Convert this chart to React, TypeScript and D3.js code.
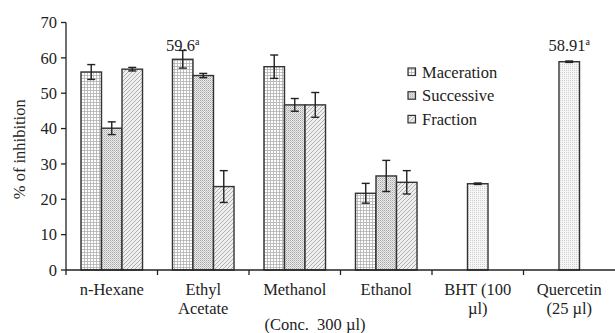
import React from "react";
import * as d3 from "d3";

const categories = ["n-Hexane", "Ethyl|Acetate", "Methanol", "Ethanol", "BHT (100|µl)", "Quercetin|(25 µl)"];
const seriesNames = ["Maceration", "Successive", "Fraction"];
const maceration = [56.0, 59.6, 57.5, 21.7, null, null];
const macerationErr = [2.1, 2.5, 3.3, 2.8, null, null];
const successive = [40.1, 55.0, 46.7, 26.6, null, null];
const successiveErr = [1.8, 0.6, 1.8, 4.4, null, null];
const fraction = [56.8, 23.6, 46.7, 24.8, null, null];
const fractionErr = [0.5, 4.5, 3.5, 3.3, null, null];
const standards = [null, null, null, null, 24.4, 58.91];
const standardsErr = [null, null, null, null, 0.2, 0.2];
const yTicks = [0, 10, 20, 30, 40, 50, 60, 70];
const annotations = [
  { cat: 1, series: 0, text: "59.6" },
  { cat: 5, series: 1, text: "58.91" },
];

const W = 615, H = 333;
const x0 = 66, x1 = 615, yTop = 22.5, yBottom = 270;

export default function App() {
  const y = d3.scaleLinear().domain([0, 70]).range([yBottom, yTop]);
  const x = d3.scaleBand<number>().domain(categories.map((_, i) => i)).range([x0, x1]).padding(0);
  const xs = d3.scaleBand<number>().domain([0, 1, 2]).range([0, x.bandwidth()]).paddingInner(0).paddingOuter(0.73);
  const font = "'Liberation Serif', 'Times New Roman', serif";
  const fs = 16.5;
  const fills = ["url(#pMac)", "url(#pSuc)", "url(#pFrac)", "url(#pStd)"];

  const bars: { cat: number; slot: number; v: number; e: number; fill: string }[] = [];
  const series = [maceration, successive, fraction];
  const errs = [macerationErr, successiveErr, fractionErr];
  categories.forEach((_, ci) => {
    series.forEach((s, si) => {
      const v = s[ci];
      if (v != null) bars.push({ cat: ci, slot: si, v, e: errs[si][ci] as number, fill: fills[si] });
    });
    const sv = standards[ci];
    if (sv != null) bars.push({ cat: ci, slot: 1, v: sv, e: standardsErr[ci] as number, fill: fills[3] });
  });

  return (
    <svg width={W} height={H} style={{ position: "absolute", left: 0, top: 0, background: "#fff" }}>
      <defs>
        <pattern id="pMac" width="3" height="3" patternUnits="userSpaceOnUse">
          <rect width="3" height="3" fill="#fff" />
          <path d="M0,0.5H3M0.5,0V3" stroke="#b0b0b0" strokeWidth="0.8" />
        </pattern>
        <pattern id="pSuc" width="2" height="2" patternUnits="userSpaceOnUse">
          <rect width="2" height="2" fill="#ececec" />
          <rect width="1" height="1" fill="#a6a6a6" />
          <rect x="1" y="1" width="1" height="1" fill="#c4c4c4" />
        </pattern>
        <pattern id="pFrac" width="4" height="4" patternUnits="userSpaceOnUse">
          <rect width="4" height="4" fill="#efefef" />
          <path d="M-1,1L1,-1M0,4L4,0M3,5L5,3" stroke="#a8a8a8" strokeWidth="0.9" />
        </pattern>
        <pattern id="pStd" width="2" height="2" patternUnits="userSpaceOnUse">
          <rect width="2" height="2" fill="#f6f6f6" />
          <rect width="1" height="1" fill="#d0d0d0" />
        </pattern>
      </defs>

      {/* bars */}
      {bars.map((b, i) => {
        const bx = (x(b.cat) as number) + (xs(b.slot) as number);
        const bw = xs.bandwidth();
        return (
          <g key={i}>
            <rect x={bx} y={y(b.v)} width={bw} height={y(0) - y(b.v)} fill={b.fill} stroke="#333" strokeWidth={1.4} />
            <g stroke="#222" strokeWidth={1.4}>
              <line x1={bx + bw / 2} x2={bx + bw / 2} y1={y(b.v + b.e)} y2={y(b.v - b.e)} />
              <line x1={bx + bw / 2 - 4} x2={bx + bw / 2 + 4} y1={y(b.v + b.e)} y2={y(b.v + b.e)} />
              <line x1={bx + bw / 2 - 4} x2={bx + bw / 2 + 4} y1={y(b.v - b.e)} y2={y(b.v - b.e)} />
            </g>
          </g>
        );
      })}

      {/* annotations */}
      {annotations.map((a, i) => {
        const cx = (x(a.cat) as number) + (xs(a.series) as number) + xs.bandwidth() / 2;
        return (
          <text key={i} x={cx} y={51} textAnchor="middle" fontFamily={font} fontSize={fs} fill="#222">
            {a.text}
            <tspan fontSize={10} dy={-6}>a</tspan>
          </text>
        );
      })}

      {/* y axis */}
      <line x1={x0} x2={x0} y1={yTop} y2={yBottom} stroke="#222" strokeWidth={1.3} />
      {yTicks.map((t) => (
        <g key={t}>
          <line x1={x0 - 5} x2={x0} y1={y(t)} y2={y(t)} stroke="#222" strokeWidth={1.3} />
          <text x={x0 - 9} y={y(t)} dy="0.35em" textAnchor="end" fontFamily={font} fontSize={fs} fill="#222">{t}</text>
        </g>
      ))}

      {/* x axis */}
      <line x1={x0} x2={x1} y1={yBottom} y2={yBottom} stroke="#222" strokeWidth={1.3} />
      {categories.map((c, i) => (
        <g key={c}>
          <line x1={x(i) as number} x2={x(i) as number} y1={yBottom} y2={yBottom + 5} stroke="#222" strokeWidth={1.3} />
          {c.split("|").map((line, li) => (
            <text key={li} x={(x(i) as number) + x.bandwidth() / 2} y={295 + li * 19} textAnchor="middle" fontFamily={font} fontSize={fs} fill="#222">{line}</text>
          ))}
        </g>
      ))}
      <text x={315} y={330} textAnchor="middle" fontFamily={font} fontSize={fs} fill="#222" style={{ whiteSpace: "pre" }}>{"(Conc.  300 µl)"}</text>

      {/* y label */}
      <text transform={`translate(25,${(yTop + yBottom) / 2 + 3}) rotate(-90)`} textAnchor="middle" fontFamily={font} fontSize={fs} fill="#222">% of inhibition</text>

      {/* legend */}
      {seriesNames.map((s, i) => (
        <g key={s} transform={`translate(408,${72 + i * 23.7})`}>
          <rect x={0} y={-4} width={7.5} height={7.5} fill={fills[i]} stroke="#333" strokeWidth={1.2} />
          <text x={14} y={0} dy="0.35em" fontFamily={font} fontSize={fs} fill="#222">{s}</text>
        </g>
      ))}
    </svg>
  );
}
